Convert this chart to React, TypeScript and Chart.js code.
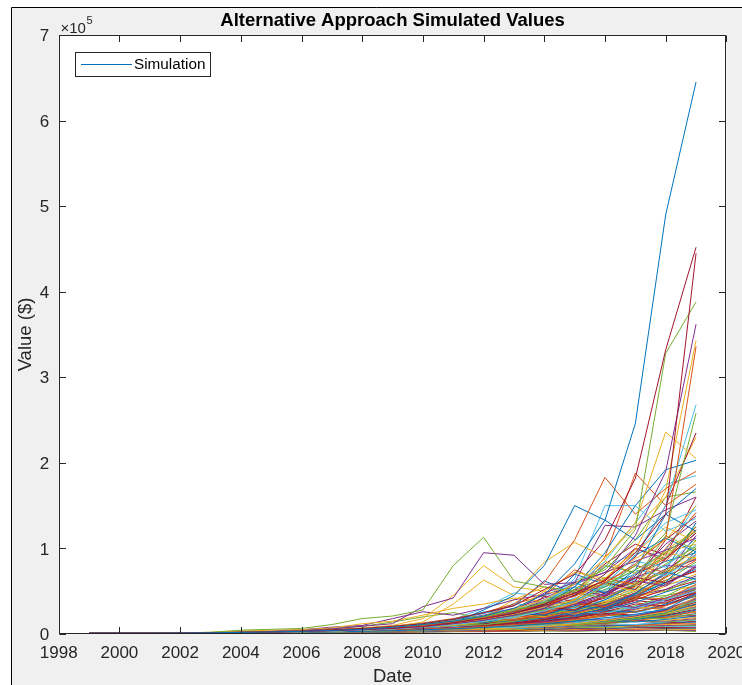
import React, { useEffect, useRef } from "react";
import { Chart, registerables } from "chart.js";

Chart.register(...registerables);

// ---------- data (values in thousands of dollars) ----------
const years = [1999, 2000, 2001, 2002, 2003, 2004, 2005, 2006, 2007, 2008, 2009, 2010, 2011, 2012, 2013, 2014, 2015, 2016, 2017, 2018, 2019];
const xTickLabels = ["1998", "2000", "2002", "2004", "2006", "2008", "2010", "2012", "2014", "2016", "2018", "2020"];
const yTickLabels = ["0", "1", "2", "3", "4", "5", "6", "7"];
const chartTitle = "Alternative Approach Simulated Values";
const xTitle = "Date";
const yTitle = "Value ($)";
const legendLabel = "Simulation";
const UNIT = 1000;

const leadPaths = [
  [1, 1, 1, 1.1, 1.4, 1.8, 2.4, 3.1, 4.2, 5.5, 7.8, 11, 15, 21, 30, 46, 82, 133, 246, 490, 645],
  [1, 1, 1, 1.2, 1.5, 2, 2.7, 3.5, 5, 6.5, 9, 12, 17, 25, 33, 52, 70, 110, 182, 332, 452],
  [1, 1, 1, 1.1, 1.3, 1.7, 2.2, 3, 4, 5.2, 6.8, 9, 13, 18, 24, 35, 48, 62, 95, 140, 445],
  [1, 1, 1, 1.1, 1.4, 1.9, 2.6, 3.4, 4.6, 6, 8.2, 11, 15, 20, 28, 36, 52, 78, 122, 328, 388],
  [1, 1, 1, 1.1, 1.3, 1.6, 2.1, 2.8, 3.8, 5, 6.4, 8.5, 12, 16, 22, 30, 46, 70, 115, 190, 362],
  [1, 1, 1, 1.1, 1.3, 1.7, 2.2, 2.9, 3.9, 5.1, 6.9, 9.4, 12, 17, 23, 31, 40, 65, 98, 168, 343],
  [1, 1, 1, 1.1, 1.4, 1.8, 2.4, 3.2, 4.3, 5.6, 7.5, 10, 14, 19, 26, 35, 44, 60, 82, 112, 336],
  [1, 1, 1, 1, 1.2, 1.6, 2, 2.6, 3.4, 4.5, 6, 8, 11, 15, 20, 27, 38, 58, 92, 150, 268],
  [1, 1, 1, 1.1, 1.4, 1.9, 2.6, 3.5, 4.7, 6.2, 8.5, 11, 15, 21, 29, 40, 58, 88, 130, 236, 205],
  [1, 1, 1, 1, 1.2, 1.5, 2, 2.7, 3.6, 4.8, 6.3, 8.4, 11, 15, 21, 28, 39, 55, 80, 118, 258],
  [1, 1, 1, 1.1, 1.3, 1.7, 2.2, 3, 4, 5.3, 7, 9.3, 12, 17, 24, 33, 45, 64, 90, 150, 235],
  [1, 1, 1, 1.1, 1.4, 1.8, 2.3, 3.1, 4.1, 5.4, 7.2, 9.6, 13, 18, 25, 34, 55, 95, 150, 192, 203],
  [1, 1, 1, 1.1, 1.4, 1.8, 2.4, 3.2, 4.2, 5.6, 7.4, 10, 14, 20, 35, 60, 110, 183, 140, 170, 190],
  [1, 1, 1, 1.1, 1.3, 1.7, 2.2, 2.9, 3.9, 5.2, 7, 9.5, 13, 28, 45, 80, 150, 133, 110, 140, 170],
  [1, 1, 1, 1.2, 2, 4.5, 5.5, 6.5, 11, 18, 21, 28, 80, 113, 62, 55, 50, 58, 75, 95, 120],
  [1, 1, 1, 1.1, 1.5, 2, 2.8, 4, 6, 9, 12, 32, 42, 95, 92, 58, 60, 72, 85, 98, 112],
  [1, 1, 1, 1.1, 1.4, 1.9, 2.6, 3.6, 5, 7, 10, 18, 45, 80, 55, 50, 72, 65, 88, 110, 150],
  [1, 1, 1, 1.1, 1.3, 1.7, 2.3, 3.2, 4.5, 6.3, 8.5, 14, 35, 63, 45, 84, 107, 90, 125, 160, 230],
  [1, 1, 1, 1, 1.3, 1.7, 2.2, 3, 4, 5.5, 7.5, 10, 14, 20, 28, 40, 55, 85, 130, 175, 185],
  [1, 1, 1, 1.1, 1.4, 1.8, 2.4, 3.2, 4.3, 5.8, 7.6, 10, 14, 19, 26, 48, 60, 127, 125, 145, 160],
  [1, 1, 1, 1, 1.2, 1.6, 2.1, 2.8, 3.7, 5, 6.7, 9, 12, 17, 23, 31, 65, 150, 150, 120, 135],
  [1, 1, 1, 1.1, 1.3, 1.7, 2.2, 3, 4, 5.4, 7.2, 9.6, 13, 18, 24, 32, 45, 90, 188, 150, 175],
  [1, 1, 1, 1.1, 1.4, 1.8, 2.3, 3.1, 4.1, 5.5, 7.4, 10, 13, 18, 25, 37, 60, 75, 110, 160, 166],
];
const leadColorIdx = [0, 6, 6, 4, 3, 2, 1, 5, 2, 4, 6, 0, 1, 0, 4, 3, 2, 2, 5, 3, 5, 1, 4];

const upperBand = [
  [1, 1, 1, 1.1, 1.4, 1.8, 2.4, 3.2, 4.3, 5.7, 7.6, 10, 14, 19, 26, 35, 60, 48, 75, 140, 120],
  [1, 1, 1, 1.1, 1.3, 1.7, 2.3, 3, 4, 5.3, 7, 9.4, 13, 17, 30, 26, 40, 65, 58, 100, 142],
  [1, 1, 1, 1.1, 1.4, 1.9, 2.5, 3.3, 4.5, 6, 8, 11, 15, 20, 28, 50, 44, 70, 95, 125, 108],
  [1, 1, 1, 1, 1.2, 1.6, 2.1, 2.8, 3.8, 5.1, 6.8, 9.1, 12, 16, 22, 30, 52, 45, 68, 105, 132],
  [1, 1, 1, 1.1, 1.3, 1.7, 2.2, 2.9, 3.9, 5.2, 7, 9.3, 13, 17, 24, 33, 45, 80, 72, 90, 126],
  [1, 1, 1, 1.1, 1.4, 1.8, 2.4, 3.2, 4.3, 5.8, 7.7, 10, 14, 26, 22, 38, 55, 50, 85, 78, 112],
  [1, 1, 1, 1, 1.2, 1.6, 2.1, 2.8, 3.7, 5, 6.6, 8.8, 12, 16, 21, 44, 38, 60, 52, 88, 118],
  [1, 1, 1, 1.1, 1.3, 1.7, 2.3, 3, 4.1, 5.5, 7.3, 9.8, 13, 18, 24, 32, 70, 58, 92, 112, 96],
  [1, 1, 1, 1.1, 1.4, 1.8, 2.4, 3.1, 4.2, 5.6, 7.5, 10, 14, 19, 26, 35, 47, 63, 100, 85, 122],
  [1, 1, 1, 1, 1.2, 1.5, 2, 2.7, 3.6, 4.8, 6.4, 8.6, 11, 15, 20, 27, 36, 58, 50, 95, 88],
  [1, 1, 1, 1.1, 1.3, 1.7, 2.2, 3, 4, 5.3, 7, 9.4, 13, 17, 23, 40, 34, 46, 62, 56, 80],
  [1, 1, 1, 1.1, 1.4, 1.9, 2.5, 3.4, 4.5, 6, 8, 11, 15, 20, 27, 36, 48, 42, 58, 82, 102],
  [1, 1, 1, 1, 1.2, 1.6, 2.1, 2.8, 3.8, 5, 6.7, 9, 12, 16, 36, 30, 42, 56, 75, 68, 92],
  [1, 1, 1, 1.1, 1.3, 1.7, 2.3, 3.1, 4.1, 5.5, 7.3, 9.7, 13, 18, 24, 32, 28, 44, 66, 60, 74],
  [1, 1, 1, 1.1, 1.4, 1.8, 2.4, 3.2, 4.3, 5.7, 7.6, 10, 14, 19, 25, 22, 33, 30, 47, 72, 64],
  [1, 1, 1, 1, 1.2, 1.6, 2.1, 2.8, 3.7, 4.9, 6.5, 8.7, 12, 20, 16, 24, 36, 32, 44, 66, 86],
];

const earlyRisers = [
  [1, 1, 1, 1.2, 2, 3.5, 4.5, 5, 7, 12, 15, 22, 30, 35, 42, 38, 50, 62, 58, 75, 90],
  [1, 1, 1, 1.1, 1.6, 2.8, 3.5, 5, 8, 10, 18, 26, 22, 30, 40, 46, 55, 48, 66, 80, 78],
  [1, 1, 1, 1.1, 1.5, 2.4, 3.2, 4.5, 6.5, 9, 14, 20, 25, 18, 26, 34, 40, 52, 60, 72, 100],
];

const midPaths = [
  [1, 1, 1, 1.1, 1.3, 1.6, 2.1, 2.8, 3.7, 4.9, 6.5, 8.7, 11, 15, 19, 28, 36, 52, 70, 98, 150],
  [1, 1, 1, 1.1, 1.4, 1.8, 2.3, 3, 4, 5.2, 7, 9, 12, 16, 25, 22, 35, 48, 62, 110, 138],
  [1, 1, 1, 1.2, 1.5, 2, 2.6, 3.5, 4.6, 6, 8, 11, 14, 13, 20, 30, 27, 40, 58, 75, 130],
  [1, 1, 1, 1.1, 1.3, 1.7, 2.2, 2.9, 3.8, 5, 6.6, 8.8, 12, 16, 21, 19, 28, 45, 70, 88, 125],
  [1, 1, 1, 1, 1.2, 1.5, 2, 2.6, 3.4, 4.5, 6, 8, 10, 14, 18, 24, 32, 38, 55, 98, 121],
  [1, 1, 1, 1.1, 1.4, 1.8, 2.4, 3.2, 4.3, 5.7, 7.6, 10, 15, 20, 17, 26, 38, 33, 48, 70, 115],
  [1, 1, 1, 1.1, 1.3, 1.6, 2.1, 2.7, 3.5, 4.6, 6.1, 8.1, 10, 13, 17, 22, 29, 38, 50, 66, 110],
  [1, 1, 1, 1.2, 1.6, 2.1, 2.8, 3.7, 5, 6.7, 9, 12, 16, 21, 28, 37, 34, 48, 64, 80, 104],
  [1, 1, 1, 1.1, 1.4, 1.8, 2.3, 3.1, 4.1, 5.4, 7.2, 9.6, 13, 12, 18, 24, 32, 42, 56, 74, 100],
  [1, 1, 1, 1, 1.2, 1.6, 2, 2.7, 3.6, 4.7, 6.3, 8.3, 11, 15, 20, 26, 22, 30, 44, 60, 97],
  [1, 1, 1, 1.1, 1.3, 1.7, 2.2, 3, 4, 5.3, 7, 9.3, 12, 16, 22, 29, 38, 50, 42, 68, 93],
  [1, 1, 1, 1.1, 1.4, 1.8, 2.4, 3.1, 4.2, 5.5, 7.3, 9.8, 13, 18, 24, 20, 27, 36, 52, 71, 90],
  [1, 1, 1, 1, 1.2, 1.5, 2, 2.6, 3.5, 4.6, 6.1, 8, 10.5, 14, 19, 25, 33, 44, 58, 76, 87],
  [1, 1, 1, 1.1, 1.3, 1.7, 2.3, 3, 4, 5.3, 7, 9.3, 12, 11, 15, 20, 27, 35, 47, 62, 84],
  [1, 1, 1, 1.1, 1.4, 1.9, 2.5, 3.3, 4.4, 5.8, 7.8, 10, 14, 19, 25, 33, 30, 40, 53, 69, 81],
  [1, 1, 1, 1, 1.2, 1.6, 2.1, 2.8, 3.7, 4.9, 6.5, 8.6, 11, 15, 20, 27, 36, 31, 42, 58, 78],
  [1, 1, 1, 1.1, 1.3, 1.7, 2.2, 2.9, 3.9, 5.1, 6.8, 9, 12, 16, 14, 19, 26, 34, 46, 60, 76],
  [1, 1, 1, 1.1, 1.4, 1.8, 2.4, 3.2, 4.2, 5.6, 7.4, 9.8, 13, 17, 23, 31, 41, 36, 48, 63, 73],
  [1, 1, 1, 1, 1.2, 1.5, 2, 2.6, 3.5, 4.6, 6.1, 8.1, 11, 14, 19, 25, 23, 31, 42, 56, 70],
  [1, 1, 1, 1.1, 1.3, 1.7, 2.2, 3, 4, 5.3, 7, 9.3, 12, 17, 22, 18, 25, 34, 45, 52, 68],
  [1, 1, 1, 1.1, 1.4, 1.8, 2.4, 3.2, 4.3, 5.7, 7.6, 10, 14, 19, 25, 34, 45, 60, 55, 50, 66],
  [1, 1, 1, 1, 1.2, 1.6, 2.1, 2.8, 3.7, 4.9, 6.5, 8.6, 11, 15, 20, 27, 35, 47, 62, 58, 64],
  [1, 1, 1, 1.1, 1.3, 1.7, 2.3, 3, 4, 5.3, 7, 9, 12, 10, 13, 17, 23, 30, 40, 52, 62],
  [1, 1, 1, 1.1, 1.4, 1.9, 2.5, 3.4, 4.5, 6, 8, 11, 15, 20, 26, 23, 31, 28, 37, 49, 60],
  [1, 1, 1, 1, 1.2, 1.5, 2, 2.7, 3.6, 4.8, 6.4, 8.5, 11, 15, 13, 18, 24, 32, 43, 41, 58],
  [1, 1, 1, 1.1, 1.3, 1.7, 2.2, 2.9, 3.9, 5.2, 6.9, 9.2, 12, 16, 21, 28, 25, 33, 44, 50, 56],
  [1, 1, 1, 1.1, 1.4, 1.8, 2.3, 3.1, 4.1, 5.5, 7.3, 9.7, 13, 17, 15, 20, 27, 35, 31, 42, 54],
  [1, 1, 1, 1, 1.2, 1.6, 2.1, 2.8, 3.7, 4.9, 6.5, 8.6, 11, 10, 14, 18, 24, 31, 41, 45, 52],
  [1, 1, 1, 1.1, 1.3, 1.7, 2.2, 3, 4, 5.3, 7, 9.3, 12, 16, 21, 28, 37, 33, 30, 40, 50],
  [1, 1, 1, 1.1, 1.4, 1.8, 2.4, 3.2, 4.3, 5.7, 7.6, 10, 13, 12, 16, 21, 28, 37, 42, 39, 48],
  [1, 1, 1, 1.1, 1.4, 1.9, 2.6, 3.5, 4.8, 6.5, 9, 12, 17, 24, 33, 62, 48, 55, 70, 85, 95],
  [1, 1, 1, 1.2, 1.5, 2, 2.7, 3.7, 5, 6.8, 9.2, 13, 18, 25, 35, 45, 75, 60, 80, 72, 88],
  [1, 1, 1, 1.1, 1.3, 1.7, 2.3, 3.1, 4.2, 5.7, 7.7, 10, 14, 20, 40, 55, 45, 85, 70, 96, 105],
  [1, 1, 1, 1.1, 1.4, 1.8, 2.4, 3.3, 4.5, 6.1, 8.3, 11, 16, 22, 30, 42, 58, 72, 100, 88, 118],
  [1, 1, 1, 1, 1.3, 1.7, 2.2, 3, 4.1, 5.6, 7.6, 10, 14, 19, 27, 38, 52, 66, 64, 115, 98],
  [1, 1, 1, 1.1, 1.4, 1.9, 2.5, 3.4, 4.6, 6.2, 8.4, 12, 17, 30, 48, 44, 62, 78, 95, 130, 145],
  [1, 1, 1, 1.1, 1.3, 1.7, 2.2, 3, 4, 5.4, 7.3, 10, 13, 18, 26, 36, 50, 82, 105, 92, 160],
];

const lowPaths = [
  [1, 1, 1, 1, 1.1, 1.3, 1.6, 2, 2.5, 3.1, 3.9, 4.9, 6.1, 7.6, 9.5, 12, 15, 19, 23, 29, 47],
  [1, 1, 1, 1, 1.1, 1.4, 1.7, 2.2, 2.8, 3.5, 4.4, 5.5, 6.9, 8.6, 11, 13, 17, 21, 26, 33, 45],
  [1, 1, 1, 1, 1.1, 1.3, 1.6, 2.1, 2.6, 3.3, 4.1, 5.2, 6.5, 8.1, 10, 9, 12, 16, 20, 26, 43],
  [1, 1, 1, 1, 1.2, 1.4, 1.8, 2.3, 2.9, 3.7, 4.6, 5.8, 7.3, 9.1, 11, 14, 18, 16, 21, 28, 41],
  [1, 1, 1, 1, 1.1, 1.3, 1.6, 2, 2.5, 3.2, 4, 5, 6.3, 7.9, 9.9, 12, 11, 14, 18, 24, 40],
  [1, 1, 1, 1, 1.1, 1.3, 1.7, 2.1, 2.7, 3.4, 4.3, 5.4, 6.8, 8.5, 7.8, 10, 13, 17, 22, 29, 38],
  [1, 1, 1, 1, 1.2, 1.5, 1.9, 2.4, 3, 3.8, 4.8, 6, 7.5, 9.4, 12, 15, 19, 24, 22, 28, 37],
  [1, 1, 1, 1, 1.1, 1.3, 1.6, 2, 2.6, 3.2, 4, 5.1, 6.4, 8, 10, 9.5, 12, 15, 19, 25, 35],
  [1, 1, 1, 1, 1.1, 1.4, 1.7, 2.2, 2.8, 3.5, 4.4, 5.6, 7, 8.8, 11, 14, 13, 17, 21, 27, 34],
  [1, 1, 1, 1, 1.1, 1.3, 1.6, 2, 2.5, 3.1, 3.9, 4.9, 6.2, 5.8, 7.3, 9.2, 12, 15, 19, 24, 33],
  [1, 1, 1, 1, 1.2, 1.4, 1.8, 2.2, 2.8, 3.6, 4.5, 5.6, 7, 8.8, 11, 10, 13, 16, 20, 25, 32],
  [1, 1, 1, 1, 1.1, 1.3, 1.6, 2.1, 2.6, 3.3, 4.1, 5.2, 6.5, 8.2, 10, 13, 16, 15, 18, 23, 31],
  [1, 1, 1, 1, 1.1, 1.3, 1.7, 2.1, 2.7, 3.4, 4.2, 5.3, 6.7, 8.4, 7.6, 9.6, 12, 15, 19, 24, 30],
  [1, 1, 1, 1, 1.1, 1.4, 1.7, 2.2, 2.7, 3.4, 4.3, 5.4, 6.8, 8.5, 11, 13, 12, 15, 19, 22, 29],
  [1, 1, 1, 1, 1.1, 1.3, 1.6, 2, 2.5, 3.2, 4, 5, 6.3, 7.9, 9.9, 12, 15, 14, 17, 21, 28],
  [1, 1, 1, 1, 1.2, 1.5, 1.8, 2.3, 2.9, 3.7, 4.6, 5.8, 7.2, 9, 8.2, 10, 13, 16, 20, 19, 27],
  [1, 1, 1, 1, 1.1, 1.3, 1.6, 2, 2.5, 3.1, 3.9, 4.9, 6.1, 7.6, 9.5, 8.8, 11, 14, 17, 21, 26],
  [1, 1, 1, 1, 1.1, 1.3, 1.7, 2.1, 2.6, 3.3, 4.1, 5.2, 6.5, 8.1, 10, 13, 12, 15, 18, 23, 25],
  [1, 1, 1, 1, 1.1, 1.4, 1.7, 2.2, 2.8, 3.5, 4.4, 5.5, 6.9, 6.3, 7.9, 9.9, 12, 15, 19, 18, 24],
  [1, 1, 1, 1, 1.1, 1.3, 1.6, 2, 2.5, 3.2, 4, 5, 6.3, 7.8, 9.8, 12, 15, 19, 17, 21, 23],
  [1, 1, 1, 1, 1.1, 1.3, 1.6, 2, 2.6, 3.2, 4, 5.1, 6.3, 7.9, 7.2, 9, 11, 14, 17, 21, 22],
  [1, 1, 1, 1, 1.1, 1.4, 1.7, 2.1, 2.7, 3.4, 4.2, 5.3, 6.6, 8.3, 10, 9.6, 12, 15, 14, 17, 21],
  [1, 1, 1, 1, 1.1, 1.3, 1.6, 2, 2.5, 3.1, 3.9, 4.9, 6.1, 7.6, 9.5, 12, 11, 13, 16, 20, 20],
  [1, 1, 1, 1, 1.1, 1.3, 1.6, 2, 2.6, 3.2, 4, 5, 6.2, 5.7, 7.1, 8.9, 11, 14, 17, 16, 19],
  [1, 1, 1, 1, 1.1, 1.3, 1.6, 2, 2.5, 3.1, 3.9, 4.8, 6, 7.5, 9.4, 8.6, 11, 13, 16, 15, 18],
  [1, 1, 1, 1, 1.1, 1.3, 1.6, 2, 2.4, 3, 3.8, 4.7, 5.9, 7.4, 9.2, 11, 10, 12, 15, 14, 17],
  [1, 1, 1, 1, 1.1, 1.3, 1.5, 1.9, 2.4, 3, 3.7, 4.6, 5.8, 7.2, 6.6, 8.2, 10, 12, 11, 14, 16],
  [1, 1, 1, 1, 1.1, 1.2, 1.5, 1.9, 2.3, 2.9, 3.6, 4.5, 5.6, 7, 8.8, 8, 10, 12, 15, 13, 15],
  [1, 1, 1, 1, 1.1, 1.2, 1.5, 1.8, 2.3, 2.8, 3.5, 4.4, 5.5, 6.8, 6.2, 7.7, 9.6, 9, 11, 13, 14],
  [1, 1, 1, 1, 1, 1.2, 1.5, 1.8, 2.2, 2.8, 3.4, 4.3, 5.3, 6.6, 8.2, 7.5, 9.3, 11, 10, 12, 13],
  [1, 1, 1, 1, 1, 1.2, 1.4, 1.7, 2.1, 2.6, 3.2, 4, 5, 6.2, 5.7, 7.1, 8.8, 8.1, 10, 11, 12],
  [1, 1, 1, 1, 1, 1.2, 1.4, 1.7, 2.1, 2.5, 3.1, 3.9, 4.8, 6, 7.4, 6.8, 8.4, 10, 9.4, 10, 11],
  [1, 1, 1, 1, 1, 1.1, 1.3, 1.6, 2, 2.4, 3, 3.7, 4.6, 5.7, 5.2, 6.4, 8, 7.4, 9.1, 9.5, 10],
  [1, 1, 1, 1, 1, 1.1, 1.3, 1.6, 1.9, 2.3, 2.9, 3.5, 4.4, 5.4, 6.7, 6.1, 7.6, 7, 8.6, 8.8, 9],
  [1, 1, 1, 1, 1, 1.1, 1.3, 1.5, 1.8, 2.2, 2.7, 3.3, 4.1, 5, 4.6, 5.7, 7, 6.5, 8, 7.6, 8],
  [1, 1, 1, 1, 1, 1.1, 1.2, 1.4, 1.7, 2.1, 2.5, 3.1, 3.8, 4.7, 5.8, 5.3, 6.6, 6.1, 7.5, 6.9, 7],
  [1, 1, 1, 1, 1, 1.1, 1.2, 1.4, 1.7, 2, 2.4, 2.9, 3.6, 3.3, 4.1, 5.1, 4.7, 5.8, 5.4, 6.6, 6],
  [1, 1, 1, 1, 1, 1, 1.2, 1.3, 1.6, 1.9, 2.2, 2.7, 3.3, 4, 3.7, 4.5, 5.5, 5.1, 6.2, 5.7, 5],
  [1, 1, 1, 1, 1, 1, 1.1, 1.3, 1.5, 1.7, 2, 2.4, 2.9, 2.7, 3.3, 4, 3.7, 4.5, 4.2, 5, 4],
  [1, 1, 1, 1, 1, 1, 1.1, 1.2, 1.4, 1.6, 1.9, 2.2, 2.6, 3.1, 2.9, 3.5, 3.2, 3.9, 3.6, 4.3, 3],
  [1, 1, 1, 1, 1.1, 1.4, 1.8, 2.3, 3, 3.9, 5, 6.5, 8.5, 11, 15, 20, 26, 24, 32, 42, 55],
  [1, 1, 1, 1, 1.2, 1.5, 1.9, 2.5, 3.2, 4.2, 5.4, 7, 9.2, 12, 16, 14, 19, 26, 35, 33, 48],
  [1, 1, 1, 1, 1.1, 1.4, 1.8, 2.4, 3.1, 4, 5.2, 6.8, 8.8, 8, 11, 15, 20, 27, 25, 34, 44],
  [1, 1, 1, 1, 1.2, 1.5, 2, 2.6, 3.4, 4.4, 5.7, 7.4, 9.6, 13, 17, 22, 20, 28, 37, 30, 39],
  [1, 1, 1, 1, 1.1, 1.4, 1.8, 2.3, 3, 3.9, 5.1, 6.6, 8.6, 11, 10, 14, 18, 24, 32, 28, 36],
  [1, 1, 1, 1, 1.1, 1.3, 1.7, 2.2, 2.9, 3.8, 4.9, 6.4, 8.3, 11, 14, 18, 24, 22, 29, 38, 52],
  [1, 1, 1, 1, 1.2, 1.5, 1.9, 2.5, 3.3, 4.3, 5.6, 7.3, 9.5, 12, 16, 21, 19, 25, 33, 44, 62],
  [1, 1, 1, 1, 1.1, 1.4, 1.8, 2.4, 3.1, 4.1, 5.3, 6.9, 9, 12, 15, 20, 27, 36, 30, 40, 57],
  [1, 1, 1, 1, 1.1, 1.3, 1.7, 2.2, 2.8, 3.7, 4.8, 6.2, 8, 10, 13, 17, 22, 29, 39, 36, 50],
  [1, 1, 1, 1, 1.2, 1.5, 2, 2.6, 3.3, 4.3, 5.6, 7.2, 9.4, 8.6, 12, 16, 21, 28, 26, 35, 46],
  [1, 1, 1, 1, 1.1, 1.4, 1.8, 2.3, 3, 3.9, 5, 6.5, 8.4, 11, 14, 13, 17, 23, 30, 40, 53],
  [1, 1, 1, 1, 1.1, 1.3, 1.7, 2.1, 2.8, 3.6, 4.6, 6, 7.8, 10, 13, 17, 16, 21, 28, 37, 49],
  [1, 1, 1, 1, 1.2, 1.5, 1.9, 2.4, 3.1, 4, 5.2, 6.8, 8.8, 11, 15, 19, 25, 23, 31, 29, 42],
  [1, 1, 1, 1, 1.1, 1.4, 1.8, 2.3, 2.9, 3.8, 4.9, 6.3, 8.2, 11, 9.8, 13, 17, 22, 21, 28, 39],
  [1, 1, 1, 1, 1.1, 1.3, 1.7, 2.2, 2.8, 3.6, 4.7, 6.1, 7.9, 10, 13, 12, 16, 21, 27, 26, 37],
  [1, 1, 1, 1, 1.1, 1.4, 1.8, 2.3, 2.9, 3.8, 5, 6.5, 8.4, 11, 14, 18, 17, 22, 20, 27, 35],
];

// ---------- styling ----------
const palette = ["#0072BD", "#D95319", "#EDB120", "#7E2F8E", "#77AC30", "#4DBEEE", "#A2142F"];
const FONT = "'Liberation Sans', Arial, Helvetica, sans-serif";
const AX = "#262626";

const frame = {
  id: "matlabFrame",
  beforeDraw(chart: any) {
    const { ctx, chartArea: a, width, height } = chart;
    ctx.save();
    ctx.fillStyle = "#ffffff";
    ctx.fillRect(0, 0, width, height);
    ctx.fillStyle = "#f0f0f0";
    ctx.fillRect(11, 7, width - 11, height - 7);
    ctx.strokeStyle = "#000";
    ctx.lineWidth = 1;
    ctx.beginPath();
    ctx.moveTo(11.5, height);
    ctx.lineTo(11.5, 7.5);
    ctx.lineTo(width, 7.5);
    ctx.stroke();
    ctx.fillStyle = "#ffffff";
    ctx.fillRect(a.left, a.top, a.right - a.left, a.bottom - a.top);
    ctx.restore();
  },
  afterDatasetsDraw(chart: any) {
    const { ctx, chartArea: a, scales } = chart;
    const xs = scales.x;
    const ys = scales.y;
    const L = Math.round(a.left) + 0.5;
    const R = Math.round(a.right) - 0.5;
    const T = Math.round(a.top) + 0.5;
    const B = Math.round(a.bottom) - 0.5;
    ctx.save();
    ctx.strokeStyle = AX;
    ctx.lineWidth = 1;
    ctx.strokeRect(L, T, R - L, B - T);
    const tl = 6.5;
    ctx.beginPath();
    xs.ticks.forEach((t: any) => {
      const px = Math.round(xs.getPixelForValue(t.value)) + 0.5;
      ctx.moveTo(px, B);
      ctx.lineTo(px, B - tl);
      ctx.moveTo(px, T);
      ctx.lineTo(px, T + tl);
    });
    ys.ticks.forEach((t: any) => {
      const py = Math.round(ys.getPixelForValue(t.value)) + 0.5;
      ctx.moveTo(L, py);
      ctx.lineTo(L + tl, py);
      ctx.moveTo(R, py);
      ctx.lineTo(R - tl, py);
    });
    ctx.stroke();

    // legend
    const lx = 75.5, ly = 52.5, lw = 135, lh = 24;
    ctx.fillStyle = "#fff";
    ctx.fillRect(lx, ly, lw, lh);
    ctx.strokeStyle = AX;
    ctx.strokeRect(lx, ly, lw, lh);
    ctx.strokeStyle = chart.data.datasets[0].borderColor;
    ctx.beginPath();
    ctx.moveTo(81, ly + 12);
    ctx.lineTo(132, ly + 12);
    ctx.stroke();
    ctx.fillStyle = "#000";
    ctx.font = `15.3px ${FONT}`;
    ctx.textBaseline = "middle";
    ctx.textAlign = "left";
    ctx.fillText(legendLabel, 134, ly + 12.5);
    ctx.restore();
  },
  afterDraw(chart: any) {
    const { ctx, chartArea: a } = chart;
    ctx.save();
    ctx.fillStyle = AX;
    // exponent
    ctx.textAlign = "left";
    ctx.textBaseline = "alphabetic";
    ctx.font = `15px ${FONT}`;
    ctx.fillText("\u00d710", 60.5, 32.5);
    const w = ctx.measureText("\u00d710").width;
    ctx.font = `11px ${FONT}`;
    ctx.fillText("5", 60.5 + w + 0.5, 24);
    // axis titles
    ctx.font = `18.5px ${FONT}`;
    ctx.textAlign = "center";
    ctx.textBaseline = "middle";
    ctx.fillText(xTitle, (a.left + a.right) / 2, 676.5);
    ctx.translate(26, (a.top + a.bottom) / 2);
    ctx.rotate(-Math.PI / 2);
    ctx.fillText(yTitle, 0, 0);
    ctx.restore();
  },
};

export default function App() {
  const ref = useRef<HTMLCanvasElement | null>(null);
  useEffect(() => {
    if (!ref.current) return;
    const bandPaths = [...upperBand, ...earlyRisers, ...midPaths, ...lowPaths];
    const allPaths = [...leadPaths, ...bandPaths];
    const datasets = allPaths.map((p, i) => {
      const color = i < leadPaths.length ? palette[leadColorIdx[i]] : palette[(i - leadPaths.length) % palette.length];
      return {
        label: i === 0 ? legendLabel : "",
        data: p.map((v, k) => ({ x: years[k], y: v * UNIT })),
        borderColor: color,
        backgroundColor: color,
        borderWidth: 1,
        pointRadius: 0,
        pointHoverRadius: 0,
        fill: false,
        tension: 0,
      };
    });
    const tickFont = { family: FONT, size: 17 };
    const chart = new Chart(ref.current, {
      type: "line",
      data: { datasets },
      plugins: [frame],
      options: {
        responsive: false,
        animation: false,
        events: [],
        layout: { padding: { left: 0, right: 15.6, top: 0, bottom: 0 } },
        plugins: {
          legend: { display: false },
          tooltip: { enabled: false },
          title: {
            display: true,
            text: chartTitle,
            fullSize: false,
            color: "#000",
            font: { family: FONT, size: 18.5, weight: "bold", lineHeight: 1.2 },
            padding: { top: 10, bottom: 2.8 },
          },
        },
        scales: {
          x: {
            type: "linear",
            min: 1998,
            max: 2020,
            grid: { display: false, drawTicks: false },
            border: { display: false },
            ticks: {
              stepSize: 2,
              autoSkip: false,
              maxRotation: 0,
              padding: 9,
              color: AX,
              font: tickFont,
              callback: (v: any) => xTickLabels[Math.round((Number(v) - 1998) / 2)] ?? "",
            },
            afterFit: (s: any) => {
              s.height = 51;
              s.paddingLeft = 0;
              s.paddingRight = 0;
            },
          },
          y: {
            type: "linear",
            min: 0,
            max: 700000,
            grid: { display: false, drawTicks: false },
            border: { display: false },
            ticks: {
              stepSize: 100000,
              padding: 9.5,
              labelOffset: 1.5,
              color: AX,
              font: tickFont,
              callback: (v: any) => yTickLabels[Math.round(Number(v) / 100000)] ?? "",
            },
            afterFit: (s: any) => {
              s.width = 58.7;
              s.paddingTop = 0;
              s.paddingBottom = 0;
            },
          },
        },
      } as any,
    });
    return () => chart.destroy();
  }, []);
  return (
    <div style={{ position: "absolute", left: 0, top: 0, width: 742, height: 685, overflow: "hidden" }}>
      <canvas ref={ref} width={742} height={685} style={{ display: "block", width: 742, height: 685 }} />
    </div>
  );
}
